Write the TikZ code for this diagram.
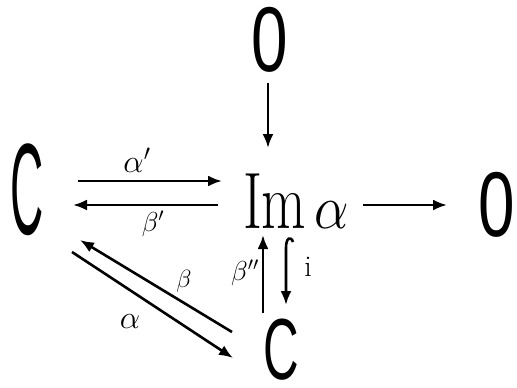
\documentclass[tikz,border=0pt]{standalone}
\usepackage{fontspec}
\newfontfamily\hand{Liberation Sans}
\usetikzlibrary{calc,arrows.meta}
\begin{document}
\begin{tikzpicture}[x=1pt,y=-1pt,
  big/.style={inner sep=0pt,anchor=center},
  lbl/.style={inner sep=0pt,anchor=center,font=\fontsize{24}{24}\selectfont},
  arr/.style={line width=2.6pt,-{Latex[length=14pt,width=11pt]}}]
\useasboundingbox (0,0) rectangle (517,388);
\node[big] (C1) at (27,190) {\fontsize{100}{100}\selectfont\hand\scalebox{0.46}[1.3]{C}};
\node[big] (Z1) at (270,40) {\fontsize{80}{80}\selectfont\hand\scalebox{0.82}[1.15]{0}};
\node[big] (Im) at (296,201) {\fontsize{80}{80}\selectfont\scalebox{0.72}[1]{Im}\kern8pt\fontsize{24}{24}\selectfont\scalebox{2.2}[2.5]{$\alpha$}};
\node[big] (Z2) at (497,205) {\fontsize{80}{80}\selectfont\hand\scalebox{0.82}[1.15]{0}};
\node[big] (C2) at (281,350) {\fontsize{85}{85}\selectfont\hand\scalebox{0.58}[1.02]{C}};
% arrows
\draw[arr] ($(Z1)+(-2,43)$) -- ($(Im)+(-28,-53)$);
\draw[arr] ($(C1)+(51,-9)$) -- ($(Im)+(-74,-20)$);
\draw[arr] ($(Im)+(-78,4)$) -- ($(C1)+(46,15)$);
\draw[arr] ($(Im)+(67,4)$) -- ($(Z2)+(-50,0)$);
\draw[arr] ($(C1)+(45,62)$) -- ($(C2)+(-48,8)$);
\draw[arr] ($(C2)+(-49,-18)$) -- ($(C1)+(53,50)$);
\draw[arr] ($(C2)+(-18,-37)$) -- ($(Im)+(-33,34)$);
\draw[arr] ($(Im)+(-3,41)$) .. controls ($(Im)+(-5,35)$) and ($(Im)+(-10,36)$) .. ($(Im)+(-10,47)$) -- ($(C2)+(5,-45)$);
% labels
\node[lbl] (la1) at (137,160) {\scalebox{1.3}{$\alpha'$}};
\node[lbl] (lb1) at (153,224) {\scalebox{1.1}{$\beta'$}};
\node[lbl] (lb) at (184,281) {$\beta$};
\node[lbl] (la) at (130,322) {\scalebox{1.3}{$\alpha$}};
\node[lbl] (lb2) at (245,273) {\scalebox{1.1}{$\beta''$}};
\node[lbl,font=\fontsize{30}{30}\selectfont] (li) at (308,267) {i};
\end{tikzpicture}
\end{document}
